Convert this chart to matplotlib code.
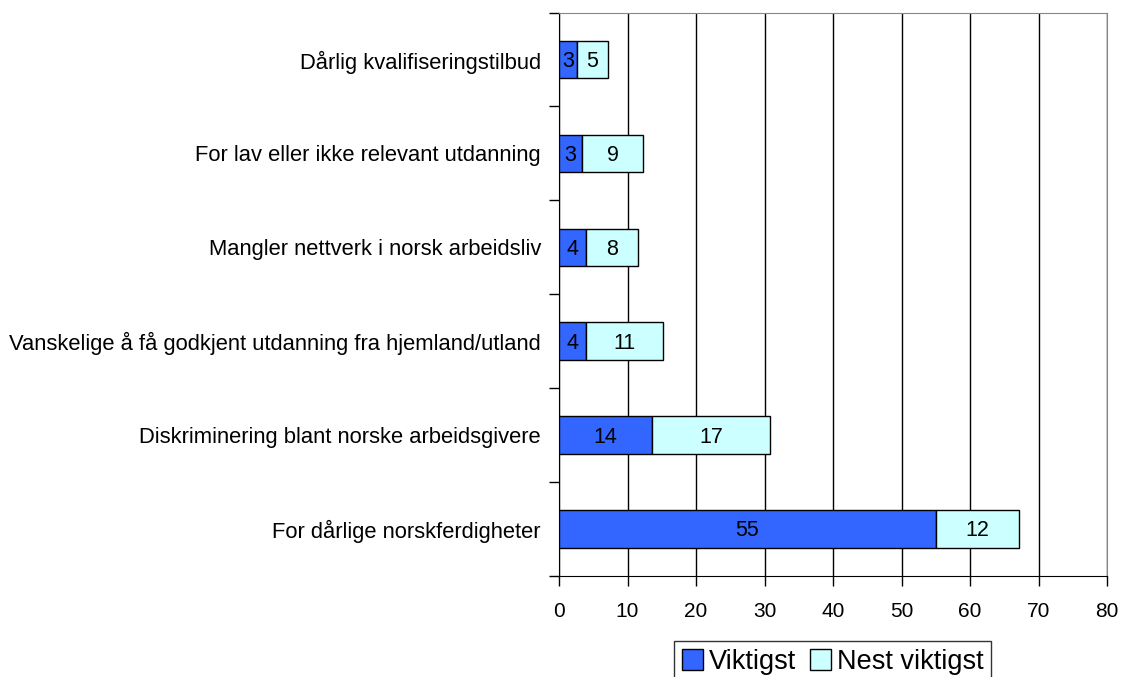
import numpy as np
import matplotlib.pyplot as plt

plt.rcParams['font.family'] = ['Liberation Sans', 'DejaVu Sans']

kategorier = ['For dårlige norskferdigheter',
              'Diskriminering blant norske arbeidsgivere',
              'Vanskelige å få godkjent utdanning fra hjemland/utland',
              'Mangler nettverk i norsk arbeidsliv',
              'For lav eller ikke relevant utdanning',
              'Dårlig kvalifiseringstilbud']
viktigst = [55.0, 13.6, 4.0, 3.9, 3.4, 2.6]
nest_viktigst = [12.2, 17.2, 11.2, 7.7, 8.9, 4.5]

fig = plt.figure(figsize=(11.22, 6.77), dpi=100)
ax = fig.add_axes([559/1122, 1-576/677, 548/1122, 563.5/677])

y = np.arange(len(kategorier))
b1 = ax.barh(y, viktigst, height=0.4, color='#3366FF', edgecolor='black',
             linewidth=1, label='Viktigst', zorder=3)
b2 = ax.barh(y, nest_viktigst, left=viktigst, height=0.4, color='#CCFFFF',
             edgecolor='black', linewidth=1, label='Nest viktigst', zorder=3)

for vals, start in [(viktigst, [0]*6), (nest_viktigst, viktigst)]:
    for yi, v, s in zip(y, vals, start):
        ax.text(s + v/2, yi - 0.02, '%d' % round(v + 1e-9), ha='center',
                va='center', fontsize=15.5, zorder=4)

ax.set_xlim(0, 80)
ax.set_ylim(-0.5, 5.5)
ax.set_xticks(range(0, 81, 10))
ax.set_yticks(np.arange(-0.5, 6, 1))
ax.set_yticklabels([])
ax.set_yticks(y, minor=True)
ax.set_yticklabels(kategorier, minor=True, fontsize=15.8)
ax.tick_params(axis='y', which='minor', length=0, pad=13)
ax.tick_params(axis='y', which='major', length=7, width=1, direction='out')
ax.tick_params(axis='x', length=7, width=1, direction='out', labelsize=15, pad=12)

ax.grid(axis='x', color='black', linewidth=1, zorder=0)
ax.spines['top'].set_color('#888888')
ax.spines['right'].set_color('#888888')
ax.spines['left'].set_color('black')
ax.spines['bottom'].set_color('black')

leg = fig.legend(loc='upper center', bbox_to_anchor=(832.5/1122, 1-641/677),
                 ncol=2, fontsize=19.5, frameon=True, fancybox=False,
                 edgecolor='black', handlelength=0.8, handleheight=0.8,
                 handletextpad=0.2, columnspacing=0.5, borderpad=0.3,
                 borderaxespad=0)
leg.get_frame().set_linewidth(1)

fig.savefig('out.png', dpi=100)
